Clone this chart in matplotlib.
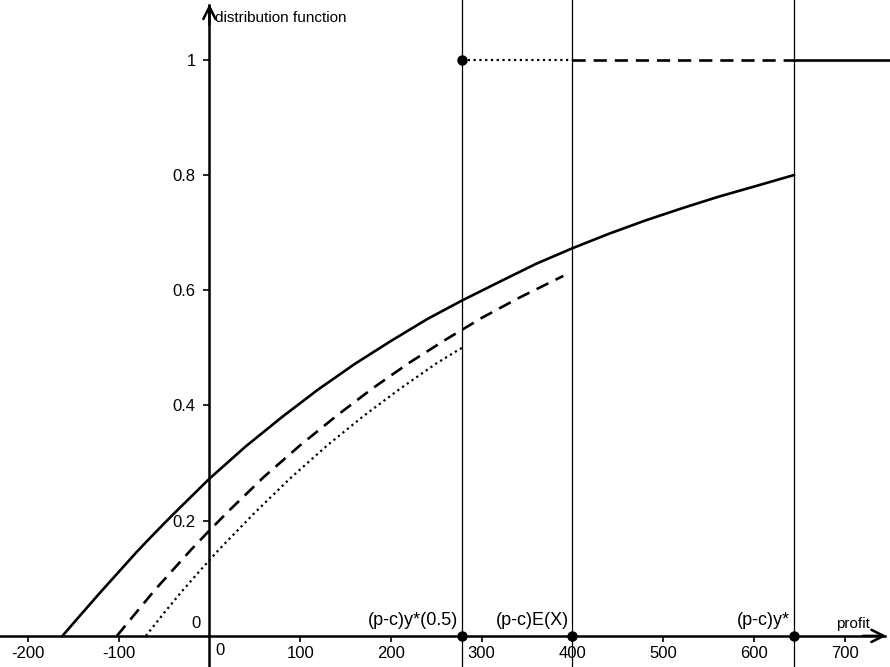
import matplotlib.pyplot as plt

plt.rcParams['font.family'] = ['Liberation Sans', 'DejaVu Sans']

# distribution functions
x_solid = [-162, -140, -120, -100, -80, -60, -40, -20, 0, 40, 80, 120, 160, 200, 240,
           278, 320, 360, 400, 440, 480, 520, 560, 600, 644]
y_solid = [0, 0.040, 0.076, 0.111, 0.146, 0.179, 0.211, 0.242, 0.273, 0.329, 0.380,
           0.428, 0.472, 0.512, 0.550, 0.582, 0.615, 0.646, 0.673, 0.698, 0.721,
           0.742, 0.762, 0.780, 0.800]

x_dashed = [-102, -80, -60, -40, -20, 0, 20, 60, 100, 140, 180, 220, 260, 300, 340, 390]
y_dashed = [0, 0.042, 0.080, 0.115, 0.150, 0.183, 0.215, 0.276, 0.331, 0.382, 0.430,
            0.474, 0.514, 0.552, 0.586, 0.625]

x_dotted = [-70, -50, -30, -10, 10, 50, 90, 130, 170, 210, 250, 278]
y_dotted = [0, 0.040, 0.078, 0.114, 0.149, 0.214, 0.275, 0.331, 0.382, 0.429, 0.473,
            0.500]

# vertical markers on the profit axis
marks = [278, 400, 644]
mark_labels = ['(p-c)y*(0.5)', '(p-c)E(X)', '(p-c)y*']

x_ticks = [-200, -100, 100, 200, 300, 400, 500, 600, 700]
y_ticks = [0.2, 0.4, 0.6, 0.8, 1]
y_tick_labels = ['0.2', '0.4', '0.6', '0.8', '1']

fig = plt.figure(figsize=(8.9, 6.67), dpi=100)
ax = fig.add_axes([0, 0, 1, 1])
ax.set_xlim(-230.8, 750)
ax.set_ylim(-0.054, 1.104)

for s in ['top', 'right']:
    ax.spines[s].set_visible(False)
for s in ['left', 'bottom']:
    ax.spines[s].set_position(('data', 0))
    ax.spines[s].set_linewidth(1.8)
ax.spines['bottom'].set_bounds(-230.8, 745)
ax.spines['left'].set_bounds(-0.054, 1.095)

ax.set_xticks(x_ticks)
ax.set_xticklabels([str(t) for t in x_ticks])
ax.set_yticks(y_ticks)
ax.set_yticklabels(y_tick_labels)
ax.tick_params(axis='both', direction='out', length=4, width=1.2, labelsize=12, pad=3)
ax.tick_params(axis='y', pad=6)

ax.text(7, -0.012, '0', fontsize=12, ha='left', va='top')
ax.text(-10, 0.008, '0', fontsize=12, ha='right', va='bottom')

# axis arrows
arrow = dict(arrowstyle='->', lw=1.8, color='black', mutation_scale=22,
             shrinkA=0, shrinkB=0)
ax.annotate('', xy=(746, 0), xytext=(720, 0), arrowprops=arrow, zorder=6)
ax.annotate('', xy=(0, 1.097), xytext=(0, 1.06), arrowprops=arrow, zorder=6)
ax.text(6, 1.072, 'distribution function', fontsize=11, ha='left', va='center')
ax.text(690, 0.008, 'profit', fontsize=11, ha='left', va='bottom')

for m in marks:
    ax.axvline(m, color='black', lw=0.9)

ax.plot(x_solid, y_solid, color='black', lw=1.9)
ax.plot(x_dashed, y_dashed, color='black', lw=1.9, linestyle=(0, (5, 3)))
ax.plot(x_dotted, y_dotted, color='black', lw=1.6, linestyle=(0, (1, 1.6)))

ax.plot([marks[0], marks[1]], [1, 1], color='black', lw=1.6, linestyle=(0, (1, 1.6)))
ax.plot([marks[1], marks[2]], [1, 1], color='black', lw=1.9, linestyle=(0, (5, 3)))
ax.plot([marks[2], 750], [1, 1], color='black', lw=1.9)

ax.plot(marks, [0, 0, 0], 'o', color='black', ms=6.5, clip_on=False, zorder=5)
ax.plot([marks[0]], [1], 'o', color='black', ms=6.5, zorder=5)

for m, lab in zip(marks, mark_labels):
    ax.text(m - 4, 0.012, lab, fontsize=13, ha='right', va='bottom')

fig.savefig('out.png', dpi=100)
